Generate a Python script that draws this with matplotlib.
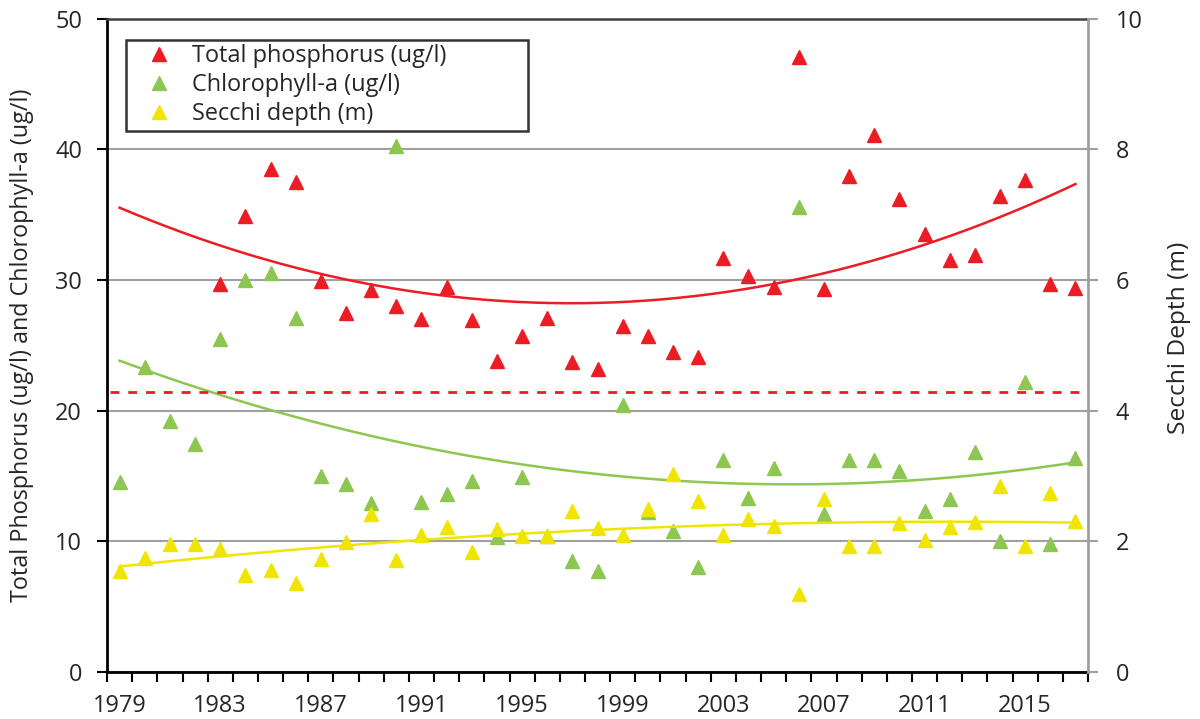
import numpy as np
import matplotlib
matplotlib.use('Agg')
import matplotlib.pyplot as plt
from matplotlib.ticker import FixedLocator, NullFormatter
from matplotlib.lines import Line2D

nan = np.nan
years = list(range(1979, 2018))
tp = [nan, nan, nan, nan, 29.7, 34.9, 38.5, 37.5, 29.9, 27.5, 29.2, 28.0, 27.0, 29.5,
      26.9, 23.8, 25.7, 27.1, 23.7, 23.2, 26.5, 25.7, 24.5, 24.1, 31.7, 30.3, 29.5, 47.1,
      29.3, 38.0, 41.1, 36.2, 33.5, 31.5, 31.9, 36.4, 37.7, 29.7, 29.4]
chl = [14.5, 23.3, 19.2, 17.4, 25.5, 30.0, 30.5, 27.1, 15.0, 14.4, 12.9, 40.3, 13.0, 13.6,
       14.6, 10.3, 14.9, 10.4, 8.5, 7.7, 20.4, 12.2, 10.8, 8.0, 16.2, 13.3, 15.6, 35.6,
       12.1, 16.2, 16.2, 15.4, 12.3, 13.2, 16.8, 10.0, 22.2, 9.8, 16.4]
secchi = [1.54, 1.74, 1.96, 1.96, 1.88, 1.48, 1.55, 1.35, 1.73, 1.98, 2.41, 1.71, 2.09, 2.21,
          1.83, 2.18, 2.08, 2.08, 2.46, 2.20, 2.10, 2.49, 3.03, 2.62, 2.09, 2.34, 2.23, 1.19,
          2.64, 1.92, 1.92, 2.28, 2.02, 2.22, 2.29, 2.85, 1.92, 2.74, 2.30]
tp_target = 21.4
label_years = [1979, 1983, 1987, 1991, 1995, 1999, 2003, 2007, 2011, 2015]
left_label = 'Total Phosphorus (ug/l) and Chlorophyll-a (ug/l)'
right_label = 'Secchi Depth (m)'
legend_labels = ['Total phosphorus (ug/l)', 'Chlorophyll-a (ug/l)', 'Secchi depth (m)']

RED = '#EC1C24'
GREEN = '#8DC650'
YELLOW = '#F0E500'
TXT = '#262626'

plt.rcParams['font.family'] = ['Open Sans', 'DejaVu Sans']

W, H = 1200, 719
fig = plt.figure(figsize=(W / 100, H / 100), dpi=100)
renderer = fig.canvas.get_renderer()


def fitted_size(s, target_px, base=16.0):
    t = fig.text(0, 0, s, fontsize=base)
    w = t.get_window_extent(renderer).width
    t.remove()
    return base * target_px / w


tick_fs = fitted_size('1979', 54)
label_fs = fitted_size(left_label, 515)
right_fs = fitted_size(right_label, 192)
leg_fs = fitted_size(legend_labels[0], 255)

ax = fig.add_axes([0.0892, 0.066, 0.8175, 0.9076])
ax2 = ax.twinx()

x = np.array(years, dtype=float)
xf = np.linspace(x[0], x[-1], 300)


def trend(vals):
    v = np.array(vals, dtype=float)
    m = ~np.isnan(v)
    c = np.polyfit(x[m], v[m], 2)
    return np.polyval(c, xf)


ms = 10.5
ax.plot(xf, trend(tp), color=RED, lw=1.8, zorder=2)
ax.plot(xf, trend(chl), color=GREEN, lw=1.8, zorder=2)
ax.axhline(tp_target, xmin=0.003, xmax=0.995, color=RED, lw=2, ls=(0, (3.2, 3.2)), zorder=2)
ax.plot(x, chl, ls='none', marker='^', ms=ms, color=GREEN, zorder=3)
ax.plot(x, tp, ls='none', marker='^', ms=ms, color=RED, zorder=3)
ax2.plot(xf, trend(secchi), color=YELLOW, lw=1.8, zorder=2)
ax2.plot(x, secchi, ls='none', marker='^', ms=ms, color=YELLOW, zorder=3)

ax.set_xlim(years[0] - 0.5, years[-1] + 0.5)
ax.set_ylim(0, 50)
ax2.set_ylim(0, 10)

ax.yaxis.set_major_locator(FixedLocator([0, 10, 20, 30, 40, 50]))
ax2.yaxis.set_major_locator(FixedLocator([0, 2, 4, 6, 8, 10]))
ax.grid(axis='y', color='#A0A0A0', lw=1.5, zorder=0)
ax.set_axisbelow(True)

ax.xaxis.set_major_locator(FixedLocator(label_years))
ax.xaxis.set_minor_locator(FixedLocator(np.arange(years[0] - 0.5, years[-1] + 1.0, 1.0)))
ax.xaxis.set_minor_formatter(NullFormatter())
ax.tick_params(axis='x', which='major', length=0, labelsize=tick_fs, colors=TXT, pad=16)
ax.tick_params(axis='x', which='minor', length=7, width=1.5, color='black', direction='out')
ax.tick_params(axis='y', which='major', length=7, width=1.5, color='black',
               labelsize=tick_fs, labelcolor=TXT, pad=11)
ax2.tick_params(axis='y', which='major', length=7, width=1.5, color='#A0A0A0',
                labelsize=tick_fs, labelcolor=TXT, pad=13)

for s in ['left', 'bottom']:
    ax.spines[s].set_linewidth(2)
    ax.spines[s].set_color('black')
ax.spines['top'].set_color('#404040')
ax.spines['top'].set_linewidth(1.8)
ax.spines['right'].set_visible(False)
for s in ['left', 'bottom', 'top']:
    ax2.spines[s].set_visible(False)
ax2.spines['right'].set_color('#A0A0A0')
ax2.spines['right'].set_linewidth(2)

fig.text(22 / W, 1 - 345.5 / H, left_label, rotation=90, ha='center', va='center',
         fontsize=label_fs, color=TXT)
fig.text(1179 / W, 1 - 338 / H, right_label, rotation=90, ha='center', va='center',
         fontsize=right_fs, color=TXT)

handles = [
    Line2D([], [], ls='none', marker='^', ms=ms, color=RED),
    Line2D([], [], ls='none', marker='^', ms=ms, color=GREEN),
    Line2D([], [], ls='none', marker='^', ms=ms, color=YELLOW),
]
leg = ax2.legend(handles, legend_labels, loc='upper left',
                 bbox_to_anchor=(0.019, 0.968, 0.41, 0.0),
                 mode='expand', fontsize=leg_fs, frameon=True, fancybox=False,
                 edgecolor='black', labelspacing=0.22, handletextpad=0.15, handlelength=2.5,
                 borderpad=0.18, borderaxespad=0)
leg.get_frame().set_linewidth(1.8)
for t in leg.get_texts():
    t.set_color(TXT)

fig.savefig('out.png', dpi=100)
